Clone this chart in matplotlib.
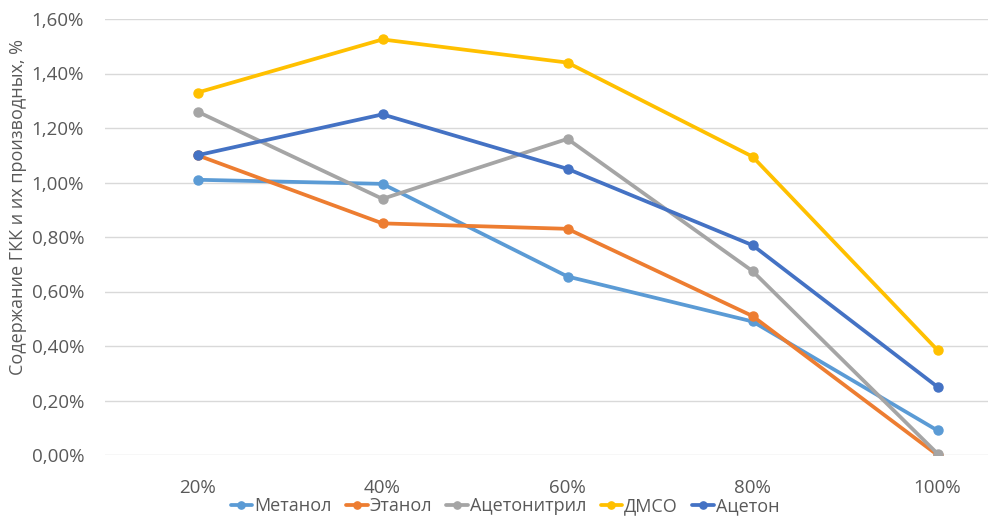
import matplotlib
matplotlib.use("Agg")
import matplotlib.pyplot as plt
from matplotlib.ticker import FuncFormatter, MultipleLocator

plt.rcParams["font.family"] = ["Open Sans", "DejaVu Sans"]

concentrations = ["20%", "40%", "60%", "80%", "100%"]

# ГКК content, % (fraction of 1)
metanol = [1.01, 0.995, 0.655, 0.49, 0.09]
etanol = [1.10, 0.85, 0.83, 0.51, 0.00]
acetonitril = [1.26, 0.94, 1.16, 0.675, 0.005]
dmso = [1.33, 1.525, 1.44, 1.095, 0.385]
aceton = [1.10, 1.25, 1.05, 0.77, 0.25]

series = [
    ("Метанол", metanol, "#5B9BD5"),
    ("Этанол", etanol, "#ED7D31"),
    ("Ацетонитрил", acetonitril, "#A5A5A5"),
    ("ДМСО", dmso, "#FFC000"),
    ("Ацетон", aceton, "#4472C4"),
]

W, H = 988, 526
fig = plt.figure(figsize=(W / 100, H / 100), dpi=100)
# category axis runs a bit past the right edge of the canvas
ax = fig.add_axes([105 / W, 1 - 455 / H, (1030 - 105) / W, (455 - 19) / H])

x = range(len(concentrations))
for name, vals, color in series:
    ax.plot(x, [v / 100 for v in vals], color=color, lw=2.7, marker="o",
            ms=6.5, label=name, solid_capstyle="round", zorder=3)

ax.set_xlim(-0.5, len(concentrations) - 0.5)
ax.set_ylim(0, 0.016)
ax.yaxis.set_major_locator(MultipleLocator(0.002))
ax.yaxis.set_major_formatter(
    FuncFormatter(lambda v, _: f"{v * 100:.2f}%".replace(".", ",")))
ax.set_xticks(list(x))
ax.set_xticklabels(concentrations)

ax.grid(axis="y", color="#D9D9D9", lw=1)
ax.set_axisbelow(True)
for s in ax.spines.values():
    s.set_visible(False)
ax.tick_params(length=0, labelsize=13.5, colors="#595959")
ax.tick_params(axis="y", pad=15)
ax.tick_params(axis="x", pad=17)

fig.text(18 / W, 1 - 207 / H, "Содержание ГКК и их производных, %",
         rotation=90, va="center", ha="center", fontsize=13, color="#595959")

leg = fig.legend(loc="center", bbox_to_anchor=(505 / W, 1 - 506 / H), ncol=5,
                 frameon=False, fontsize=13, handlelength=1.2,
                 handletextpad=0.1, columnspacing=0.8, markerscale=0.8)
for t in leg.get_texts():
    t.set_color("#595959")

fig.savefig("out.png", dpi=100)
